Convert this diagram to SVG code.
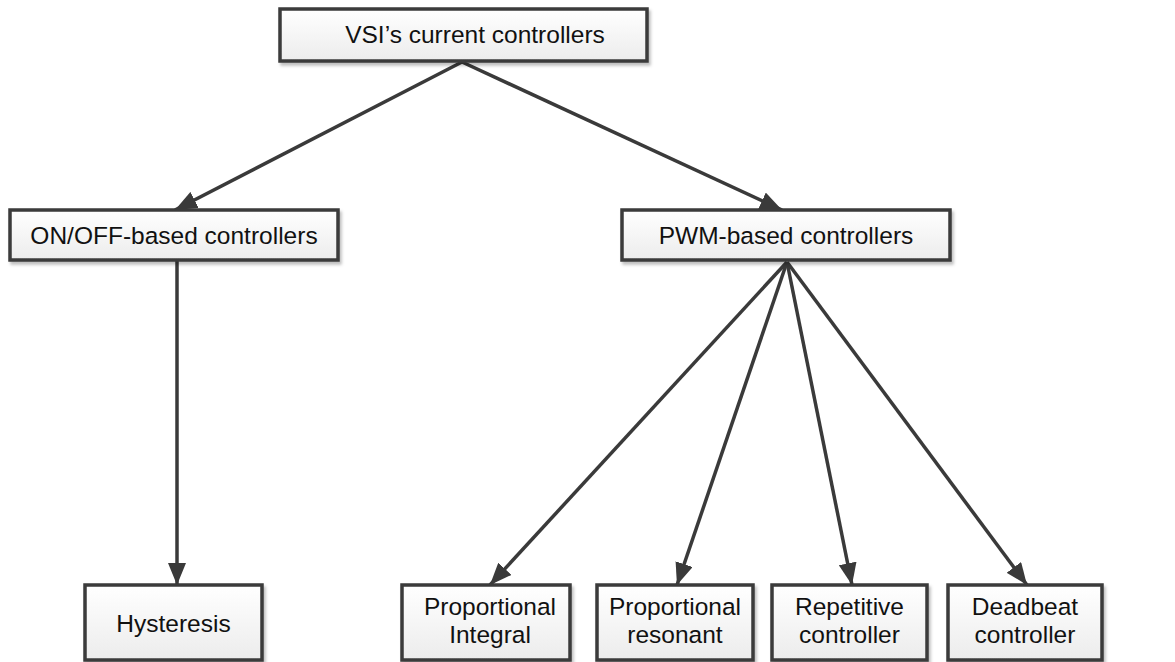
<svg xmlns="http://www.w3.org/2000/svg" width="1175" height="662" viewBox="0 0 1175 662">
  <defs>
    <linearGradient id="boxFill" x1="0" y1="0" x2="0" y2="1">
      <stop offset="0" stop-color="#ffffff"/>
      <stop offset="1" stop-color="#ececec"/>
    </linearGradient>
    <filter id="shadow" x="-10%" y="-20%" width="120%" height="150%">
      <feDropShadow dx="2" dy="3" stdDeviation="1.5" flood-color="#000" flood-opacity="0.25"/>
    </filter>
    <marker id="arrow" viewBox="0 0 22 18" refX="22" refY="9" markerWidth="22" markerHeight="18" markerUnits="userSpaceOnUse" orient="auto">
      <path d="M0,0 L22,9 L0,18 Z" fill="#3a3a3a"/>
    </marker>
  </defs>
  <style>
    .box { fill: url(#boxFill); stroke: #3a3a3a; stroke-width: 3.5; filter: url(#shadow); }
    .label { font-family: "Liberation Sans", Arial, sans-serif; font-size: 24.5px; fill: #111; text-anchor: middle; }
    .edge { stroke: #3a3a3a; stroke-width: 3.5; fill: none; marker-end: url(#arrow); }
  </style>
  <rect width="1175" height="662" fill="#ffffff"/>

  <g id="connectors">
    <line class="edge" x1="462" y1="62" x2="175" y2="210"/>
    <line class="edge" x1="462" y1="62" x2="782" y2="210"/>
    <line class="edge" x1="177" y1="260" x2="177" y2="585"/>
    <line class="edge" x1="787" y1="262" x2="490" y2="585"/>
    <line class="edge" x1="787" y1="262" x2="677" y2="585"/>
    <line class="edge" x1="787" y1="262" x2="852" y2="585"/>
    <line class="edge" x1="787" y1="262" x2="1027" y2="585"/>
  </g>

  <g id="vsi-current-controllers">
    <rect class="box" x="280" y="9" width="367" height="52"/>
    <text class="label" x="475" y="43">VSI’s current controllers</text>
  </g>

  <g id="on-off-controllers">
    <rect class="box" x="10" y="210" width="328" height="50"/>
    <text class="label" x="174" y="244">ON/OFF-based controllers</text>
  </g>

  <g id="pwm-controllers">
    <rect class="box" x="622" y="210" width="328" height="50"/>
    <text class="label" x="786" y="244">PWM-based controllers</text>
  </g>

  <g id="hysteresis">
    <rect class="box" x="85" y="585" width="177" height="75"/>
    <text class="label" x="173.5" y="632">Hysteresis</text>
  </g>

  <g id="proportional-integral">
    <rect class="box" x="402" y="585" width="168" height="75"/>
    <text class="label" x="490" y="615">Proportional</text>
    <text class="label" x="490" y="643">Integral</text>
  </g>

  <g id="proportional-resonant">
    <rect class="box" x="597" y="585" width="156" height="75"/>
    <text class="label" x="675" y="615">Proportional</text>
    <text class="label" x="675" y="643">resonant</text>
  </g>

  <g id="repetitive-controller">
    <rect class="box" x="772" y="585" width="155" height="75"/>
    <text class="label" x="849.5" y="615">Repetitive</text>
    <text class="label" x="849.5" y="643">controller</text>
  </g>

  <g id="deadbeat-controller">
    <rect class="box" x="948" y="585" width="154" height="75"/>
    <text class="label" x="1025" y="615">Deadbeat</text>
    <text class="label" x="1025" y="643">controller</text>
  </g>
</svg>
